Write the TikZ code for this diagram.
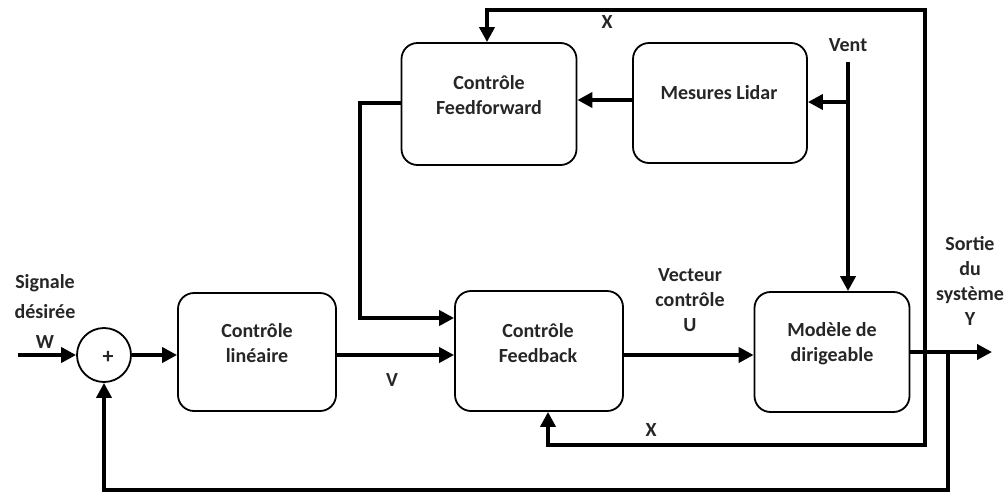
\documentclass[tikz,border=0pt]{standalone}
\usepackage{fontspec}
\setmainfont{Carlito}
\usetikzlibrary{arrows.meta}
\begin{document}
\begin{tikzpicture}[x=1pt,y=-1pt,
  blk/.style={draw, line width=1.8pt, rounded corners=16pt, inner sep=0pt},
  txt/.style={font=\bfseries\fontsize{20}{25}\selectfont, align=center, text=black!85, inner sep=0pt},
  conn/.style={line width=4pt, -{Triangle[length=15pt,width=15pt]}},
  wire/.style={line width=4pt}]
\useasboundingbox (0,0) rectangle (1008,496);
% blocks
\node[blk, minimum width=158pt, minimum height=118pt] (lin) at (257,352) {};
\node[blk, minimum width=168pt, minimum height=120pt] (fb) at (539,351) {};
\node[blk, minimum width=155pt, minimum height=120pt] (mod) at (832,352) {};
\node[blk, minimum width=175pt, minimum height=122pt] (ff) at (489,104) {};
\node[blk, minimum width=174pt, minimum height=120pt] (lid) at (720,103) {};
\node[draw, circle, line width=1.8pt, minimum size=54pt, inner sep=0pt] (sum) at (104,355) {};
% texts
\node[txt, font=\bfseries\fontsize{22}{25}\selectfont] (tsum) at (108,357) {+};
\node[txt] (tlin) at (257,343) {Contrôle\\linéaire};
\node[txt] (tfb) at (538,343) {Contrôle\\Feedback};
\node[txt] (tmod) at (832,344) {Modèle de\\dirigeable};
\node[txt] (tff) at (489,95) {Contrôle\\Feedforward};
\node[txt] (tlid) at (719,93) {Mesures Lidar};
\node[txt, font=\bfseries\fontsize{20}{30}\selectfont] (tin) at (45,311) {Signale\\désirée\\W};
\node[txt] (tvent) at (848,45) {Vent};
\node[txt] (tv) at (392,380) {V};
\node[txt] (tu) at (690,300) {Vecteur\\contrôle\\U};
\node[txt] (tx1) at (607,22) {X};
\node[txt] (tx2) at (651,430) {X};
\node[txt] (tout) at (970,281) {Sortie\\du\\système\\Y};
% coordinates
\coordinate (win) at (18,355);
\coordinate (yout) at (992,352);
\coordinate (tapA) at (925,352);
\coordinate (tapB) at (948,352);
\coordinate (ventTop) at (848,62);
\coordinate (ventBr) at (848,102);
% connectors
\draw[conn] (win) -- (sum.west);
\draw[conn] (sum.east) -- (lin.west |- sum.east);
\draw[conn] (lin.east |- 0,355) -- (fb.west |- 0,355);
\draw[conn] (ff.west |- 0,103) -- (360,103) -- (360,318) -- (fb.west |- 0,318);
\draw[conn] (fb.east |- 0,355) -- (mod.west |- 0,355);
\draw[conn] (mod.east |- yout) -- (yout);
\draw[conn] (lid.west |- 0,100) -- (ff.east |- 0,100);
\draw[wire] (ventTop) -- (ventBr);
\draw[conn] (ventBr) -- (mod.north -| ventBr);
\draw[conn] (ventBr) -- (lid.east |- ventBr);
\draw[conn] (tapA) -- (925,10) -- (487,10) -- (ff.north -| 487,0);
\draw[conn] (tapA) -- (925,445) -- (548,445) -- (fb.south -| 548,0);
\draw[conn] (tapB) -- (948,490) -- (104,490) -- (sum.south);
\end{tikzpicture}
\end{document}
